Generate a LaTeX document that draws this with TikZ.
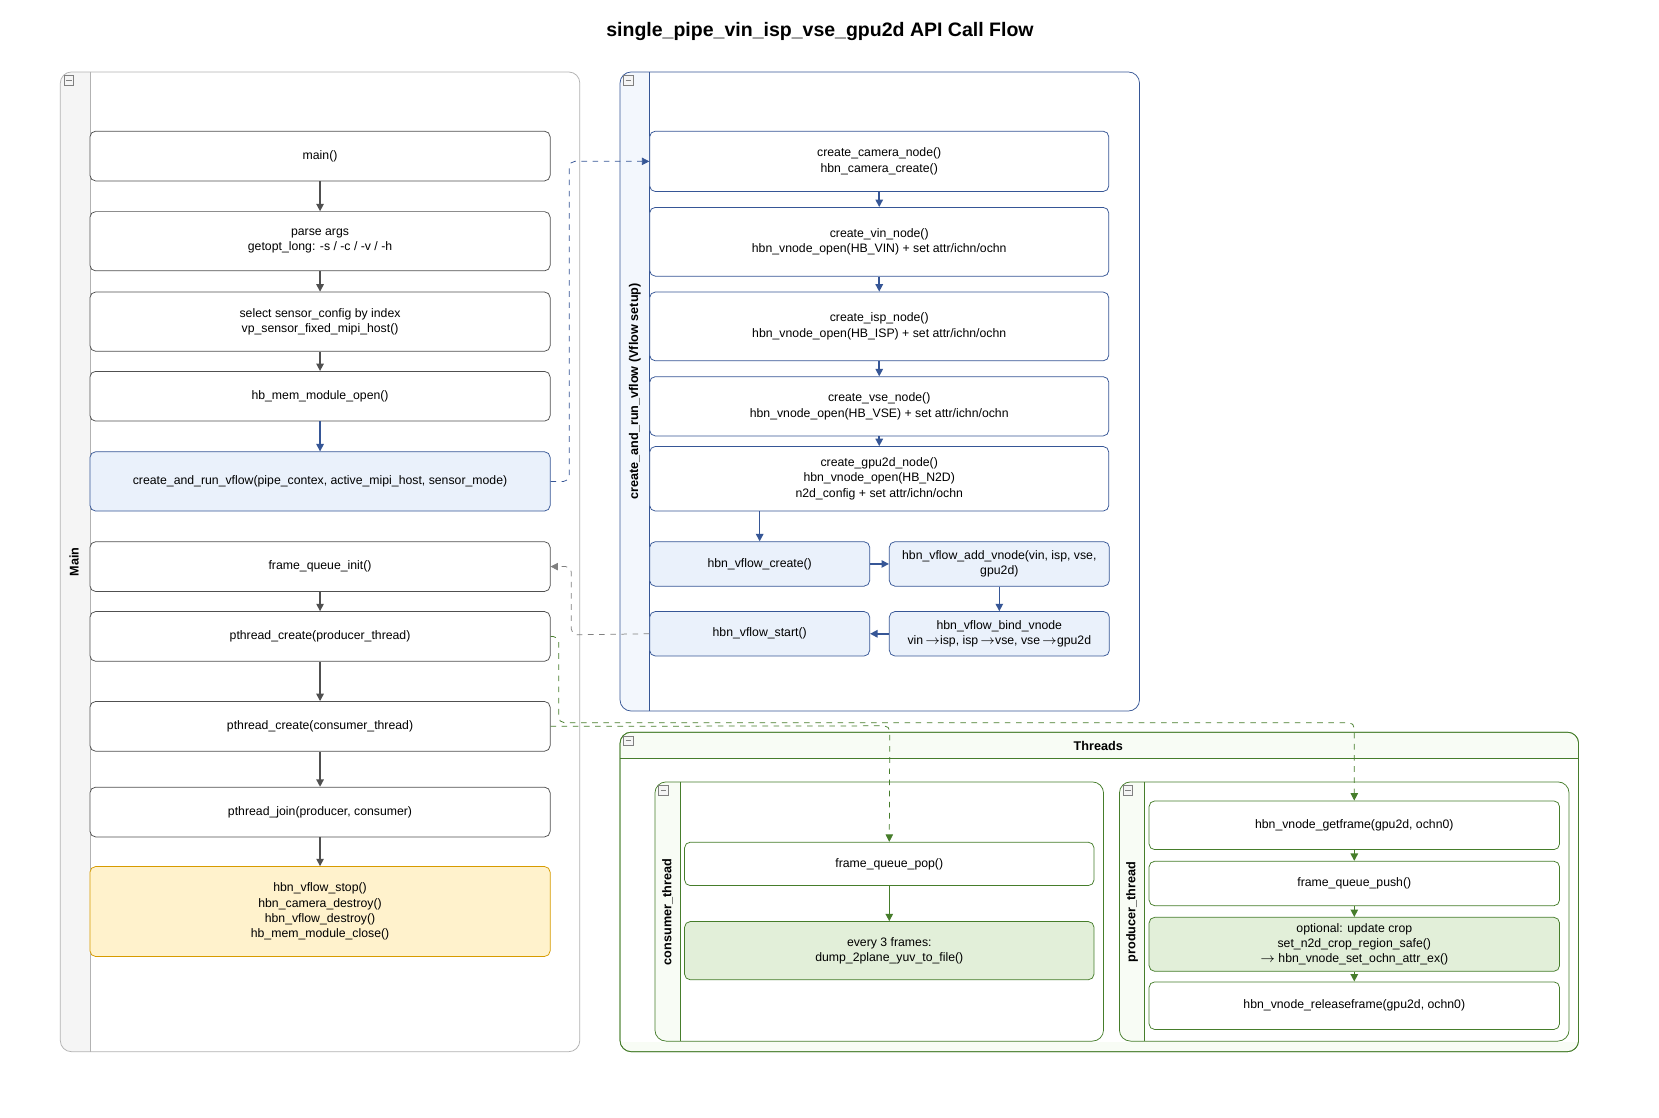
\documentclass[tikz,border=0pt]{standalone}
\usepackage{fontspec}
\setmainfont{Liberation Sans}
\usetikzlibrary{positioning}
\usetikzlibrary{arrows.meta}
\definecolor{graystroke}{RGB}{178,178,178}
\definecolor{graystrip}{RGB}{245,245,245}
\definecolor{boxstroke}{RGB}{80,80,80}
\definecolor{bluestroke}{RGB}{54,86,150}
\definecolor{bluefill}{RGB}{234,241,251}
\definecolor{bluelane}{RGB}{243,247,253}
\definecolor{orangestroke}{RGB}{215,155,0}
\definecolor{orangefill}{RGB}{255,242,204}
\definecolor{greenstroke}{RGB}{70,125,43}
\definecolor{greenfill}{RGB}{226,239,217}
\definecolor{greenlane}{RGB}{248,252,245}

\begin{document}
\begin{tikzpicture}[x=0.02cm, y=-0.02cm, >={Triangle[length=4pt,width=4pt]},
font=\fontsize{6.6}{8.2}\selectfont,
box/.style={draw=boxstroke, fill=white, rounded corners=3pt, align=center, inner sep=1pt},
bbox/.style={box, draw=bluestroke, fill=bluefill},
gbox/.style={box, draw=greenstroke},
flow/.style={->, boxstroke, thick},
bflow/.style={->, bluestroke, thick},
gflow/.style={->, greenstroke, thick},
lanelabel/.style={rotate=90, font=\fontsize{6.8}{8}\selectfont\bfseries},
minus/.style={draw=gray, fill=graystrip, minimum size=5pt, inner sep=0pt, path picture={\draw (path picture bounding box.west) ++(1pt,0) -- ++(3pt,0);}}]
\useasboundingbox (0,0) rectangle (1568,1056);

\node (title) at (775,30) {\fontsize{10.5}{12}\selectfont\bfseries single\_pipe\_vin\_isp\_vse\_gpu2d API Call Flow};

% lane Main
\begin{scope}
\clip[rounded corners=6pt] (57,68) rectangle (548,994);
\fill[white] (57,68) rectangle (548,994);
\fill[graystrip] (57,68) rectangle (85,994);
\end{scope}
\draw[graystroke, rounded corners=6pt] (57,68) rectangle (548,994);
\draw[graystroke] (85,68) -- (85,994);
\node[lanelabel] (mainlbl) at (70,531) {Main};
\node[minus] (m1) at (65,76) {};

% lane vflow setup
\begin{scope}
\clip[rounded corners=6pt] (586,68) rectangle (1077,672);
\fill[white] (586,68) rectangle (1077,672);
\fill[bluelane] (586,68) rectangle (614,672);
\end{scope}
\draw[bluestroke, rounded corners=6pt] (586,68) rectangle (1077,672);
\draw[bluestroke] (614,68) -- (614,672);
\node[lanelabel] (vflbl) at (600,370) {create\_and\_run\_vflow (Vflow setup)};
\node[minus] (m2) at (594,76) {};

% lane Threads
\draw[greenstroke, fill=greenlane, rounded corners=6pt] (586,692) rectangle (1492,994);
\fill[white] (587,717) rectangle (1491,985);
\draw[greenstroke, rounded corners=6pt] (586,692) rectangle (1492,994);
\draw[greenstroke] (586,717) -- (1492,717);
\node[font=\fontsize{6.8}{8}\selectfont\bfseries] (thlbl) at (1038,705) {Threads};
\node[minus] (m3) at (594,700) {};

\begin{scope}
\clip[rounded corners=6pt] (619,739) rectangle (1043,984);
\fill[white] (619,739) rectangle (1043,984);
\fill[greenlane] (619,739) rectangle (643,984);
\end{scope}
\draw[greenstroke, rounded corners=6pt] (619,739) rectangle (1043,984);
\draw[greenstroke] (643,739) -- (643,984);
\node[lanelabel] (conslbl) at (631,862) {consumer\_thread};
\node[minus] (m4) at (627,747) {};

\begin{scope}
\clip[rounded corners=6pt] (1058,739) rectangle (1483,984);
\fill[white] (1058,739) rectangle (1483,984);
\fill[greenlane] (1058,739) rectangle (1082,984);
\end{scope}
\draw[greenstroke, rounded corners=6pt] (1058,739) rectangle (1483,984);
\draw[greenstroke] (1082,739) -- (1082,984);
\node[lanelabel] (prodlbl) at (1070,862) {producer\_thread};
\node[minus] (m5) at (1066,747) {};

% main column
\node[box, minimum width=8.7cm, minimum height=0.94cm] (main) at (302.5,147.5) {main()};
\node[box, minimum width=8.7cm, minimum height=1.12cm] (args) at (302.5,228) {parse args\\getopt\_long: -s / -c / -v / -h};
\node[box, minimum width=8.7cm, minimum height=1.12cm] (sensor) at (302.5,304) {select sensor\_config by index\\vp\_sensor\_fixed\_mipi\_host()};
\node[box, minimum width=8.7cm, minimum height=0.94cm] (memopen) at (302.5,374.5) {hb\_mem\_module\_open()};
\node[bbox, minimum width=8.7cm, minimum height=1.12cm] (runvflow) at (302.5,455) {create\_and\_run\_vflow(pipe\_contex, active\_mipi\_host, sensor\_mode)};
\node[box, minimum width=8.7cm, minimum height=0.94cm] (qinit) at (302.5,535.5) {frame\_queue\_init()};
\node[box, minimum width=8.7cm, minimum height=0.94cm] (prod) at (302.5,601.5) {pthread\_create(producer\_thread)};
\node[box, minimum width=8.7cm, minimum height=0.94cm] (cons) at (302.5,686.5) {pthread\_create(consumer\_thread)};
\node[box, minimum width=8.7cm, minimum height=0.94cm] (join) at (302.5,767.5) {pthread\_join(producer, consumer)};
\node[box, draw=orangestroke, fill=orangefill, minimum width=8.7cm, minimum height=1.7cm] (stop) at (302.5,861.5) {hbn\_vflow\_stop()\\hbn\_camera\_destroy()\\hbn\_vflow\_destroy()\\hb\_mem\_module\_close()};

\draw[flow] (main) -- (args);
\draw[flow] (args) -- (sensor);
\draw[flow] (sensor) -- (memopen);
\draw[bflow] (memopen) -- (runvflow);
\draw[flow] (qinit) -- (prod);
\draw[flow] (prod) -- (cons);
\draw[flow] (cons) -- (join);
\draw[flow] (join) -- (stop);

% vflow setup column
\node[bbox, fill=white, minimum width=8.68cm, minimum height=1.14cm] (camera) at (831,152.5) {create\_camera\_node()\\hbn\_camera\_create()};
\node[bbox, fill=white, minimum width=8.68cm, minimum height=1.3cm] (vin) at (831,228.5) {create\_vin\_node()\\hbn\_vnode\_open(HB\_VIN) + set attr/ichn/ochn};
\node[bbox, fill=white, minimum width=8.68cm, minimum height=1.3cm] (isp) at (831,308.5) {create\_isp\_node()\\hbn\_vnode\_open(HB\_ISP) + set attr/ichn/ochn};
\node[bbox, fill=white, minimum width=8.68cm, minimum height=1.12cm] (vse) at (831,384) {create\_vse\_node()\\hbn\_vnode\_open(HB\_VSE) + set attr/ichn/ochn};
\node[bbox, fill=white, minimum width=8.68cm, minimum height=1.22cm] (gpu) at (831,452.5) {create\_gpu2d\_node()\\hbn\_vnode\_open(HB\_N2D)\\n2d\_config + set attr/ichn/ochn};
\node[bbox, minimum width=4.16cm, minimum height=0.84cm] (vfcreate) at (718,533) {hbn\_vflow\_create()};
\node[bbox, minimum width=4.16cm, minimum height=0.84cm] (addnode) at (944.5,533) {hbn\_vflow\_add\_vnode(vin, isp, vse,\\gpu2d)};
\node[bbox, minimum width=4.16cm, minimum height=0.84cm] (vfstart) at (718,599) {hbn\_vflow\_start()};
\node[bbox, minimum width=4.16cm, minimum height=0.84cm] (bind) at (944.5,599) {hbn\_vflow\_bind\_vnode\\vin\,$\rightarrow$isp, isp\,$\rightarrow$vse, vse\,$\rightarrow$gpu2d};

\draw[bflow] (camera) -- (vin);
\draw[bflow] (vin) -- (isp);
\draw[bflow] (isp) -- (vse);
\draw[bflow] (vse) -- (gpu);
\draw[bflow] (gpu.south -| vfcreate) -- (vfcreate);
\draw[bflow] (vfcreate) -- (addnode);
\draw[bflow] (addnode) -- (bind);
\draw[bflow] (bind) -- (vfstart);

% threads
\node[gbox, minimum width=7.74cm, minimum height=0.82cm] (pop) at (840.5,816.5) {frame\_queue\_pop()};
\node[gbox, fill=greenfill, minimum width=7.74cm, minimum height=1.1cm] (dump) at (840.5,898.5) {every 3 frames:\\dump\_2plane\_yuv\_to\_file()};
\node[gbox, minimum width=7.76cm, minimum height=0.92cm] (getf) at (1280,780) {hbn\_vnode\_getframe(gpu2d, ochn0)};
\node[gbox, minimum width=7.76cm, minimum height=0.84cm] (push) at (1280,835) {frame\_queue\_push()};
\node[gbox, fill=greenfill, minimum width=7.76cm, minimum height=1.02cm] (crop) at (1280,892.5) {optional: update crop\\set\_n2d\_crop\_region\_safe()\\$\rightarrow$ hbn\_vnode\_set\_ochn\_attr\_ex()};
\node[gbox, minimum width=7.76cm, minimum height=0.9cm] (release) at (1280,950.5) {hbn\_vnode\_releaseframe(gpu2d, ochn0)};

\draw[gflow] (pop) -- (dump);
\draw[gflow] (getf) -- (push);
\draw[gflow] (push) -- (crop);
\draw[gflow] (crop) -- (release);

% cross links
\coordinate (c1) at (538,455);
\coordinate (c2) at (540,600);
\coordinate (c3) at (528,683);
\coordinate (c4) at (841,686);
\draw[->, bluestroke, dashed, rounded corners=3pt] (runvflow.east) -- (c1) -- (c1 |- camera.west) -- (camera.west);
\draw[->, gray, dashed, rounded corners=3pt] (vfstart.west) -- (c2) -- (c2 |- qinit.east) -- (qinit.east);
\draw[->, greenstroke, dashed, rounded corners=3pt] (prod.east) -- (prod.east -| c3) -- (c3) -- (c3 -| getf) -- (getf.north);
\draw[->, greenstroke, dashed, rounded corners=3pt] (cons.east) -- (c4) -- (pop.north);
\end{tikzpicture}
\end{document}
